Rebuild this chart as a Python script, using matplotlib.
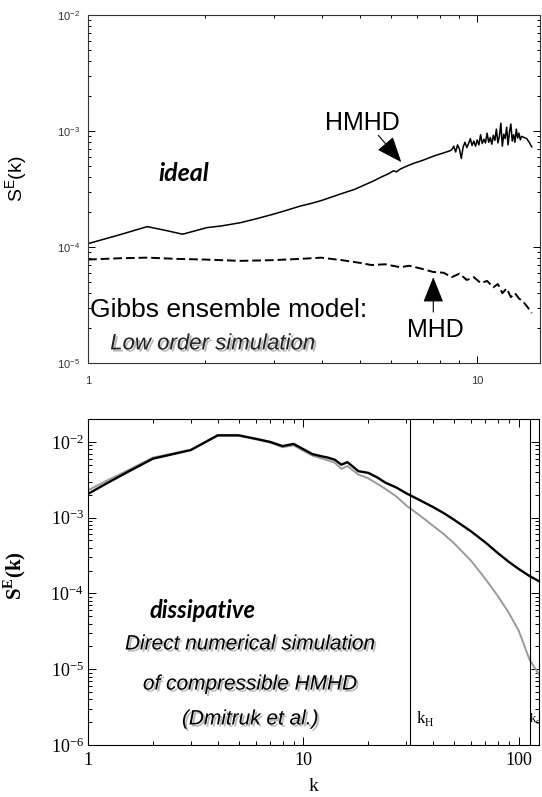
import matplotlib.pyplot as plt
import matplotlib.patheffects as pe
from matplotlib.ticker import FuncFormatter, NullFormatter, LogLocator

# ---- top panel: ideal spectra, Gibbs ensemble model ----
k_hmhd = [1.0, 1.2, 1.42, 1.6, 1.75, 2.02, 2.2, 2.46, 2.7, 2.96,
          3.2, 3.5, 3.75, 3.98, 4.2, 4.5, 4.85, 5.1, 5.4, 5.7,
          5.93, 6.1, 6.2, 6.34, 6.6, 6.9, 7.2, 7.5, 7.8, 8.1, 8.5,
          8.6, 8.7, 8.8, 8.9, 9.0, 9.1, 9.2, 9.3, 9.4, 9.5,
          9.6, 9.7, 9.8, 9.9, 10.0, 10.1, 10.2, 10.3, 10.4, 10.5,
          10.6, 10.7, 10.8, 10.9, 11.0, 11.1, 11.2, 11.3, 11.4, 11.5,
          11.6, 11.7, 11.8, 11.9, 12.0, 12.1, 12.2, 12.3, 12.4, 12.5,
          12.6, 12.7, 12.8, 12.9, 13.0, 13.2, 13.4, 13.6, 13.8]
s_hmhd = [1.07e-4, 1.27e-4, 1.50e-4, 1.38e-4, 1.29e-4, 1.47e-4, 1.52e-4, 1.62e-4, 1.75e-4, 1.90e-4,
          2.05e-4, 2.25e-4, 2.38e-4, 2.52e-4, 2.68e-4, 2.90e-4, 3.15e-4, 3.40e-4, 3.70e-4, 4.05e-4,
          4.30e-4, 4.55e-4, 4.45e-4, 4.70e-4, 5.00e-4, 5.30e-4, 5.55e-4, 5.85e-4, 6.15e-4, 6.40e-4, 6.75e-4,
          6.9e-4, 7.4e-4, 6.6e-4, 7.6e-4, 7.0e-4, 5.8e-4, 7.3e-4, 8.0e-4, 7.2e-4, 7.8e-4,
          8.6e-4, 7.5e-4, 8.2e-4, 7.4e-4, 8.4e-4, 7.6e-4, 9.3e-4, 7.8e-4, 8.5e-4, 7.9e-4,
          9.6e-4, 8.0e-4, 8.8e-4, 7.7e-4, 9.2e-4, 8.3e-4, 10.4e-4, 7.9e-4, 9.0e-4, 11.7e-4,
          7.4e-4, 9.4e-4, 8.6e-4, 10.8e-4, 7.6e-4, 9.8e-4, 11.5e-4, 8.2e-4, 9.3e-4, 8.0e-4,
          10.4e-4, 8.7e-4, 9.6e-4, 8.4e-4, 9.0e-4, 8.8e-4, 8.6e-4, 8.0e-4, 7.3e-4]

k_mhd = [1.0, 1.2, 1.42, 1.7, 2.0, 2.46, 2.95, 3.5, 3.97, 4.5,
         5.0, 5.34, 5.8, 6.34, 6.7, 7.2, 7.7, 8.2, 8.6, 9.0,
         9.4, 9.8, 10.2, 10.6, 11.0, 11.3, 11.6, 11.9, 12.2, 12.5,
         12.8, 13.1, 13.4, 13.6, 13.8]
s_mhd = [7.8e-5, 8.0e-5, 8.1e-5, 7.9e-5, 7.8e-5, 7.6e-5, 7.7e-5, 7.9e-5, 8.1e-5, 7.7e-5,
         7.3e-5, 7.0e-5, 7.1e-5, 6.7e-5, 6.9e-5, 6.5e-5, 6.1e-5, 6.0e-5, 5.5e-5, 5.9e-5,
         5.2e-5, 5.5e-5, 4.9e-5, 5.1e-5, 4.5e-5, 4.8e-5, 4.0e-5, 4.4e-5, 3.7e-5, 4.0e-5,
         3.6e-5, 3.4e-5, 3.1e-5, 2.9e-5, 2.7e-5]

# ---- bottom panel: DNS of compressible HMHD ----
k_dns = [1, 1.2, 1.5, 2, 3, 4, 5, 6, 7, 8,
         9, 10, 11, 12, 13, 14, 15, 16, 17, 18,
         19, 20, 22, 24, 27, 30, 35, 40, 45, 50,
         60, 70, 80, 90, 100, 112, 124]
s_black = [2.06e-3, 2.76e-3, 3.9e-3, 6.0e-3, 7.8e-3, 1.22e-2, 1.22e-2, 1.10e-2, 1.00e-2, 8.8e-3,
           9.4e-3, 8.0e-3, 6.9e-3, 6.5e-3, 6.2e-3, 5.8e-3, 5.0e-3, 5.4e-3, 4.7e-3, 4.1e-3,
           4.0e-3, 3.9e-3, 3.4e-3, 2.9e-3, 2.5e-3, 2.1e-3, 1.68e-3, 1.38e-3, 1.14e-3, 9.4e-4,
           6.6e-4, 4.7e-4, 3.4e-4, 2.6e-4, 2.1e-4, 1.7e-4, 1.45e-4]
s_gray = [2.3e-3, 3.0e-3, 4.1e-3, 6.2e-3, 7.9e-3, 1.21e-2, 1.21e-2, 1.08e-2, 9.8e-3, 8.5e-3,
          9.0e-3, 7.6e-3, 6.6e-3, 6.1e-3, 5.7e-3, 5.3e-3, 4.4e-3, 4.8e-3, 4.2e-3, 3.7e-3,
          3.5e-3, 3.3e-3, 2.8e-3, 2.4e-3, 1.9e-3, 1.45e-3, 1.05e-3, 7.8e-4, 6.0e-4, 4.6e-4,
          2.7e-4, 1.55e-4, 9.2e-5, 5.5e-5, 3.2e-5, 1.35e-5, 8.5e-6]
k_h = 31.3
k_d = 112.5

sans = 'Liberation Sans'
serif = 'Liberation Serif'
hand = 'Lato'
shadow = [pe.SimplePatchShadow(offset=(1.5, -1.5), shadow_rgbFace='#888888', alpha=0.6), pe.Normal()]

fig = plt.figure(figsize=(5.42, 7.97), dpi=100)

# ---------------- top ----------------
ax1 = fig.add_axes([0.1624, 0.5445, 0.834, 0.4366])
ax1.plot(k_hmhd, s_hmhd, color='black', lw=1.1)
ax1.plot(k_mhd, s_mhd, color='black', lw=1.4, ls=(0, (4.5, 2)))
ax1.set_xscale('log')
ax1.set_yscale('log')
ax1.set_xlim(1, 14.5)
ax1.set_ylim(1e-5, 1e-2)
ax1.xaxis.set_major_formatter(FuncFormatter(lambda v, p: f"{v:g}"))
ax1.xaxis.set_minor_formatter(NullFormatter())
ax1.yaxis.set_minor_formatter(NullFormatter())
ax1.yaxis.set_minor_locator(LogLocator(subs=range(2, 10)))
ax1.tick_params(which='both', direction='in', top=True, right=True, width=0.7,
                labelsize=8, labelcolor='#333333', labelfontfamily=sans)
ax1.tick_params(which='major', length=5)
ax1.tick_params(which='minor', length=2.5)
ax1.tick_params(axis='y', pad=6)
ax1.tick_params(axis='x', pad=9)
for s in ax1.spines.values():
    s.set_linewidth(0.8)
    s.set_color('#333333')
ax1.set_ylabel(r'S$^{\mathdefault{E}}$(k)', fontsize=14, fontfamily=sans)
ax1.yaxis.set_label_coords(-0.128, 0.53)

ax1.text(0.212, 0.546, 'ideal', transform=ax1.transAxes, fontsize=18, fontfamily=hand,
         fontweight='bold', fontstyle='italic', ha='center', va='center')
ax1.text(0.606, 0.690, 'HMHD', transform=ax1.transAxes, fontsize=18, fontfamily=sans,
         ha='center', va='center')
ax1.text(0.768, 0.095, 'MHD', transform=ax1.transAxes, fontsize=18, fontfamily=sans,
         ha='center', va='center')
ax1.text(0.004, 0.152, 'Gibbs ensemble model:', transform=ax1.transAxes, fontsize=19,
         fontfamily=sans, ha='left', va='center')
ax1.text(0.049, 0.055, 'Low order simulation', transform=ax1.transAxes, fontsize=16,
         fontfamily=sans, fontstyle='italic', color='#222222', ha='left', va='center',
         path_effects=shadow)
arrow = dict(arrowstyle='-|>,head_length=1.0,head_width=0.4', mutation_scale=16,
             color='black', lw=0.8, shrinkA=0, shrinkB=0)
ax1.annotate('', xy=(6.38, 5.4e-4), xytext=(5.57, 9.2e-4), arrowprops=arrow)
ax1.annotate('', xy=(7.71, 5.5e-5), xytext=(7.71, 2.75e-5), arrowprops=arrow)

# ---------------- bottom ----------------
ax2 = fig.add_axes([0.1624, 0.0652, 0.832, 0.409])
ax2.plot(k_dns, s_gray, color='#9a9a9a', lw=1.4)
ax2.plot(k_dns, s_black, color='black', lw=1.7)
ax2.axvline(k_h, color='black', lw=0.8)
ax2.axvline(k_d, color='black', lw=0.8)
ax2.set_xscale('log')
ax2.set_yscale('log')
ax2.set_xlim(1, 124)
ax2.set_ylim(1e-6, 2.0e-2)
ax2.xaxis.set_major_formatter(FuncFormatter(lambda v, p: f"{v:g}"))
ax2.xaxis.set_minor_formatter(NullFormatter())
ax2.yaxis.set_minor_formatter(NullFormatter())
ax2.yaxis.set_minor_locator(LogLocator(subs=range(2, 10)))
ax2.tick_params(which='both', direction='in', top=True, right=True, width=0.7,
                labelsize=13, labelfontfamily=serif)
ax2.tick_params(which='major', length=6)
ax2.tick_params(which='minor', length=3)
ax2.tick_params(axis='y', pad=3)
ax2.tick_params(axis='x', pad=5)
for s in ax2.spines.values():
    s.set_linewidth(0.8)
ax2.set_ylabel(r'S$^{\mathdefault{E}}$(k)', fontsize=15, fontfamily=serif, fontweight='bold')
ax2.yaxis.set_label_coords(-0.133, 0.52)
ax2.set_xlabel('k', fontsize=14, fontfamily=serif)
ax2.xaxis.set_label_coords(0.5, -0.1)

ax2.text(0.255, 0.414, 'dissipative', transform=ax2.transAxes, fontsize=17, fontfamily=hand,
         fontweight='bold', fontstyle='italic', ha='center', va='center')
for txt, yy in [('Direct numerical simulation', 0.310),
                ('of compressible HMHD', 0.187),
                ('(Dmitruk et al.)', 0.080)]:
    ax2.text(0.36, yy, txt, transform=ax2.transAxes, fontsize=15, fontfamily=sans,
             fontstyle='italic', ha='center', va='center', path_effects=shadow)
ax2.text(0.727, 0.080, r'k$_{\mathdefault{H}}$', transform=ax2.transAxes, fontsize=12,
         fontfamily=serif, ha='left', va='center')
ax2.text(0.979, 0.080, r'k$_{\mathdefault{d}}$', transform=ax2.transAxes, fontsize=9,
         fontfamily=serif, ha='left', va='center')

fig.savefig('out.png', dpi=100)
